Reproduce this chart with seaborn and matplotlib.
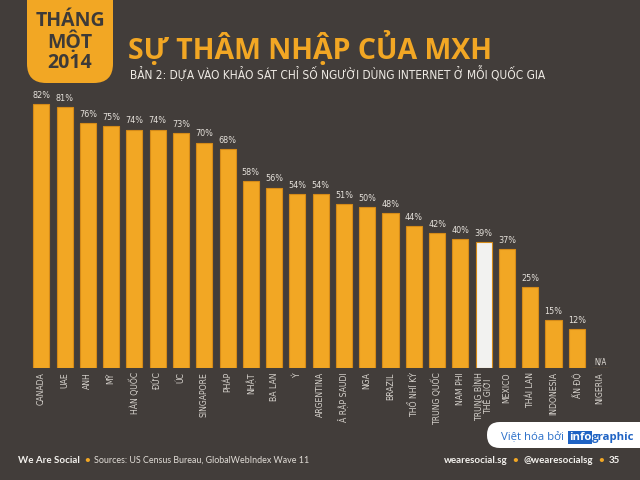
import pandas as pd
import seaborn as sns
import matplotlib.pyplot as plt
from matplotlib.patches import FancyBboxPatch

countries = ['CANADA', 'UAE', 'ANH', 'MỸ', 'HÀN QUỐC', 'ĐỨC', 'ÚC', 'SINGAPORE', 'PHÁP',
             'NHẬT', 'BA LAN', 'Ý', 'ARGENTINA', 'Ả RẬP SAUDI', 'NGA', 'BRAZIL',
             'THỔ NHĨ KỲ', 'TRUNG QUỐC', 'NAM PHI', 'TRUNG BÌNH\nTHẾ GIỚI', 'MEXICO',
             'THÁI LAN', 'INDONESIA', 'ẤN ĐỘ', 'NIGERIA']
penetration = [82, 81, 76, 75, 74, 74, 73, 70, 68, 58, 56, 54, 54, 51, 50, 48,
               44, 42, 40, 39, 37, 25, 15, 12, 0]
labels = [f'{v}%' for v in penetration[:-1]] + ['N/A']

bg = '#423d3a'
orange = '#f2a724'
light = '#e6e2dc'

df = pd.DataFrame({'country': countries, 'value': penetration})
palette = {c: orange for c in countries}
palette['TRUNG BÌNH\nTHẾ GIỚI'] = '#f2f2f0'

sns.set_style('dark')
plt.rcParams['font.family'] = ['Open Sans', 'DejaVu Sans']
cond = dict(family='DejaVu Sans', fontstretch='condensed')

fig = plt.figure(figsize=(6.4, 4.8), dpi=100, facecolor=bg)
ax = fig.add_axes([0.0463, 0.2333, 0.9095, 0.604])
ax.set_facecolor(bg)

sns.barplot(data=df, x='country', y='value', hue='country', palette=palette,
            legend=False, width=0.69, edgecolor='#d48a18', linewidth=0.8,
            saturation=1, ax=ax)
for cont, lab in zip(ax.containers, labels):
    small = lab == 'N/A'
    ax.bar_label(cont, labels=[lab], padding=1 if small else 3, color=light,
                 fontsize=5.5 if small else 6.5, **cond)

ax.set_xlim(-0.5, len(countries) - 0.5)
ax.set_ylim(0, 90)
ax.set_yticks([])
ax.set_xlabel('')
ax.set_ylabel('')
ax.grid(False)
for s in ax.spines.values():
    s.set_visible(False)
ax.tick_params(axis='x', length=0, pad=3)
ax.set_xticks(range(len(countries)))
ax.set_xticklabels(countries, rotation=90, color='#d6d2cc', fontsize=6.2,
                   va='top', ha='center', linespacing=1.0, **cond)

# badge
badge = FancyBboxPatch((27 / 640, 1 - 83 / 480), 86 / 640, 120 / 480,
                       boxstyle='round,pad=0,rounding_size=0.03',
                       transform=fig.transFigure, facecolor=orange,
                       edgecolor='none', mutation_aspect=640 / 480)
fig.patches.append(badge)
fig.text(70 / 640, 1 - 42 / 480, 'THÁNG\nMỘT\n2014', ha='center', va='center',
         fontsize=14, fontweight='bold', color='#3d3a38', linespacing=1.0)

fig.text(128 / 640, 1 - 59 / 480, 'SỰ THÂM NHẬP CỦA MXH', fontsize=20.5,
         fontweight='bold', color=orange, va='baseline')
fig.text(130 / 640, 1 - 79 / 480,
         'BẢN 2: DỰA VÀO KHẢO SÁT CHỈ SỐ NGƯỜI DÙNG INTERNET Ở MỖI QUỐC GIA',
         fontsize=8.6, color='#eeeae4', va='baseline', **cond)

renderer = fig.canvas.get_renderer()


def chain(x, y, parts, gap=4, right=False, **kw):
    # place text pieces one after another, measured in pixels
    if right:
        parts = parts[::-1]
    for txt, style in parts:
        opts = {**kw, **style}
        t = fig.text(x / 640, 1 - y / 480, txt, va='baseline',
                     ha='right' if right else 'left', **opts)
        w = t.get_window_extent(renderer).width
        x = x - w - gap if right else x + w + gap
    return x


foot = dict(fontsize=7.0, family=['Lato', 'DejaVu Sans'])
white_b = dict(color='#f4f2ee', fontweight='bold')
dot = dict(color=orange, fontweight='bold')
chain(18, 463, [('We Are Social', white_b), ('•', dot),
                ('Sources: US Census Bureau, GlobalWebIndex Wave 11',
                 dict(color='#e2ded8', fontsize=6.4))], **foot)
chain(620, 463, [('wearesocial.sg', white_b), ('•', dot),
                 ('@wearesocialsg', white_b), ('•', dot), ('35', white_b)],
      gap=5, right=True, **foot)

# infographic box
box = FancyBboxPatch((487 / 640, 1 - 448 / 480), 170 / 640, 26 / 480,
                     boxstyle='round,pad=0,rounding_size=0.02',
                     transform=fig.transFigure, facecolor='white',
                     edgecolor='none', mutation_aspect=640 / 480)
fig.patches.append(box)
x = chain(501, 440, [('Việt hóa bởi', dict(color='#2a6fc9'))], gap=5,
          fontsize=8.2)
x = chain(x, 440, [('info', dict(color='white', fontweight='bold',
                                 bbox=dict(boxstyle='square,pad=0.08',
                                           facecolor='#1f63c4',
                                           edgecolor='none')))],
          gap=1, fontsize=8.2)
chain(x, 440, [('graphic', dict(color='#1f63c4', fontweight='bold'))],
      fontsize=8.2)

fig.savefig('out.png', dpi=100, facecolor=bg)
